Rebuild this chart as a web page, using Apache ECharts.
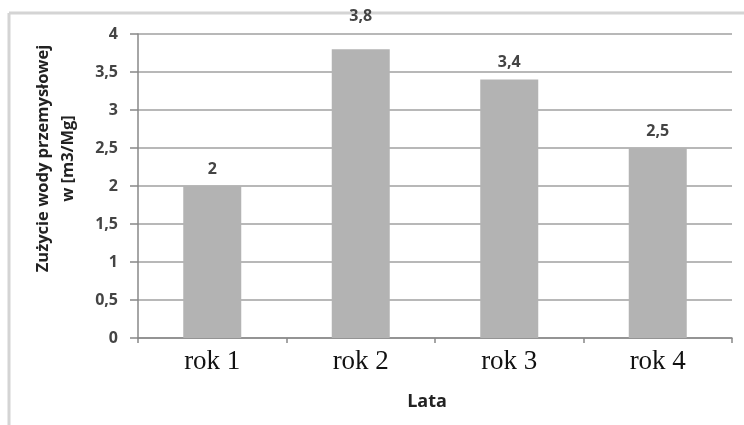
<!DOCTYPE html>
<html>
<head>
<meta charset="utf-8">
<script src="https://cdn.jsdelivr.net/npm/echarts@6/dist/echarts.min.js"></script>
<style>
  html, body { margin: 0; padding: 0; background: #ffffff; }
  #chart { width: 744px; height: 425px; }
</style>
</head>
<body>
<div id="chart"></div>
<script>
// Industrial water usage per year
const categories = ['rok 1', 'rok 2', 'rok 3', 'rok 4'];
const waterUse = [2, 3.8, 3.4, 2.5];
const yTicks = { min: 0, max: 4, step: 0.5 };

const fmt = v => String(v).replace('.', ',');

// the tallest bar's label sits higher, clear of the top gridline
const barData = waterUse.map((v, i) =>
  i === 1 ? { value: v, label: { distance: 25 } } : v
);

const chart = echarts.init(document.getElementById('chart'), null, { renderer: 'canvas' });

chart.setOption({
  backgroundColor: '#ffffff',
  animation: false,
  graphic: [
    { type: 'line', shape: { x1: 9, y1: 13, x2: 744, y2: 13 }, style: { stroke: '#d4d4d4', lineWidth: 3 } },
    { type: 'line', shape: { x1: 9, y1: 13, x2: 9, y2: 425 }, style: { stroke: '#d4d4d4', lineWidth: 3 } }
  ],
  grid: { left: 138, right: 12, top: 34, bottom: 87 },
  xAxis: {
    type: 'category',
    data: categories,
    name: 'Lata',
    nameLocation: 'middle',
    nameGap: 55,
    nameTextStyle: { fontFamily: 'Open Sans', fontWeight: 'bold', fontSize: 18, color: '#222', padding: [0, 16, 0, 0] },
    axisLine: { lineStyle: { color: '#888', width: 1.5 } },
    axisTick: { show: true, length: 5, lineStyle: { color: '#888', width: 1.5 } },
    axisLabel: { fontFamily: 'Liberation Serif', fontSize: 27, color: '#111', margin: 10 }
  },
  yAxis: {
    type: 'value',
    min: yTicks.min,
    max: yTicks.max,
    interval: yTicks.step,
    name: 'Zużycie wody przemysłowej\nw [m3/Mg]',
    nameLocation: 'middle',
    nameRotate: 90,
    nameGap: 57,
    nameTextStyle: { fontFamily: 'Open Sans', fontWeight: 'bold', fontSize: 16.5, color: '#222', lineHeight: 25, align: 'center', padding: [0, 0, 0, 55] },
    axisLine: { show: true, lineStyle: { color: '#888', width: 1.5 } },
    axisTick: { show: true, length: 8, lineStyle: { color: '#888', width: 1.5 } },
    axisLabel: { fontFamily: 'Open Sans', fontSize: 16, fontWeight: 'bold', color: '#444', margin: 20, formatter: fmt },
    splitLine: { lineStyle: { color: '#a0a0a0', width: 1.5 } }
  },
  series: [{
    type: 'bar',
    data: barData,
    barWidth: 58,
    itemStyle: { color: '#b3b3b3' },
    label: {
      show: true,
      position: 'top',
      distance: 9,
      fontFamily: 'Open Sans',
      fontSize: 16,
      fontWeight: 'bold',
      color: '#444',
      formatter: p => fmt(p.value)
    }
  }]
});
</script>
</body>
</html>
